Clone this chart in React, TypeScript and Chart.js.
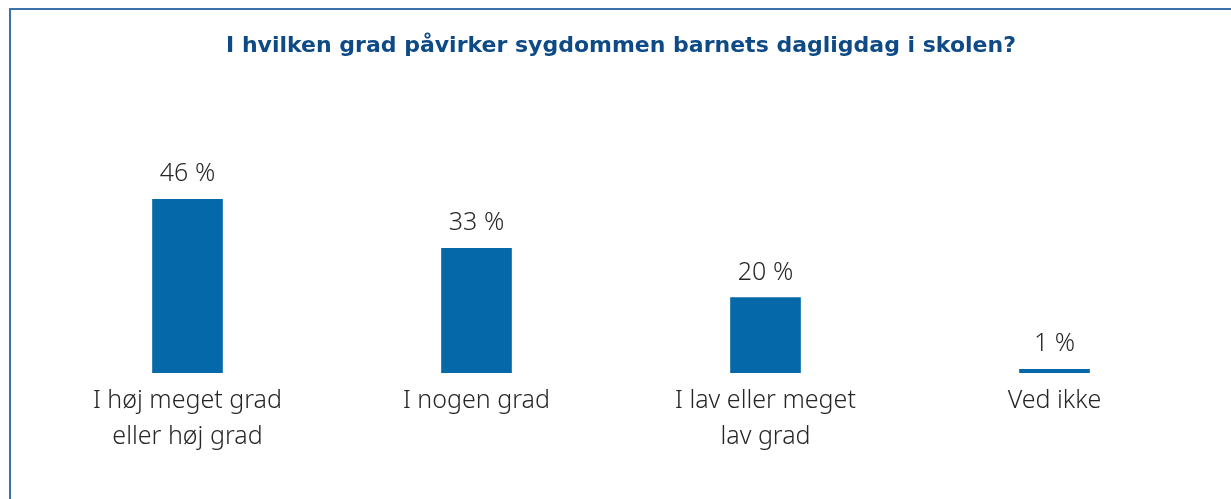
import React, { useEffect, useRef } from "react";
import { Chart, registerables } from "chart.js";

Chart.register(...registerables);

const title = "I hvilken grad påvirker sygdommen barnets dagligdag i skolen?";
const categories: string[][] = [
  ["I høj meget grad", "eller høj grad"],
  ["I nogen grad"],
  ["I lav eller meget", "lav grad"],
  ["Ved ikke"],
];
const values: number[] = [46, 33, 20, 1];
const valueLabels: string[] = ["46 %", "33 %", "20 %", "1 %"];

const BAR_COLOR = "#0568a8";
const TEXT_COLOR = "#262626";
const TITLE_COLOR = "#0d4a86";
const LABEL_FONT = "300 25px 'Noto Sans', sans-serif";

const valueLabelPlugin = {
  id: "valueLabels",
  afterDatasetsDraw(chart: any) {
    const ctx = chart.ctx;
    const meta = chart.getDatasetMeta(0);
    ctx.save();
    ctx.font = LABEL_FONT;
    ctx.fillStyle = TEXT_COLOR;
    ctx.textAlign = "center";
    ctx.textBaseline = "middle";
    meta.data.forEach((bar: any, i: number) => {
      ctx.fillText(valueLabels[i], bar.x, bar.y - 25);
    });
    ctx.restore();
  },
};

export default function App() {
  const canvasRef = useRef<HTMLCanvasElement>(null);

  useEffect(() => {
    document.body.style.margin = "0";
    const chart = new Chart(canvasRef.current!, {
      type: "bar",
      data: {
        labels: categories,
        datasets: [
          {
            data: values,
            backgroundColor: BAR_COLOR,
            borderWidth: 0,
            barThickness: 70,
          },
        ],
      },
      options: {
        animation: false,
        responsive: false,
        maintainAspectRatio: false,
        layout: { padding: { left: 43, right: 32, top: 0, bottom: 34 } },
        plugins: {
          legend: { display: false },
          tooltip: { enabled: false },
          title: {
            display: true,
            text: title,
            color: TITLE_COLOR,
            font: { family: "'DejaVu Sans', sans-serif", size: 22, weight: "bold" },
            padding: { top: 33, bottom: 87 },
          },
        },
        scales: {
          x: {
            grid: { display: false, drawTicks: false },
            border: { display: false },
            ticks: {
              color: TEXT_COLOR,
              padding: 10,
              font: { family: "'Noto Sans', sans-serif", size: 25, weight: "300", lineHeight: 1.44 },
            },
          },
          y: {
            display: false,
            min: 0,
            max: 60,
          },
        },
      },
      plugins: [valueLabelPlugin],
    });
    return () => chart.destroy();
  }, []);

  return (
    <div style={{ position: "fixed", left: 0, top: 0, width: 1231, height: 499, background: "#fff", overflow: "hidden" }}>
      <div
        style={{
          position: "absolute",
          left: 9,
          top: 8,
          width: 1240,
          height: 520,
          borderTop: "2px solid #3b72ab",
          borderLeft: "2px solid #3b72ab",
          boxSizing: "border-box",
        }}
      />
      <canvas ref={canvasRef} width={1231} height={499} style={{ position: "absolute", left: 0, top: 0 }} />
    </div>
  );
}
